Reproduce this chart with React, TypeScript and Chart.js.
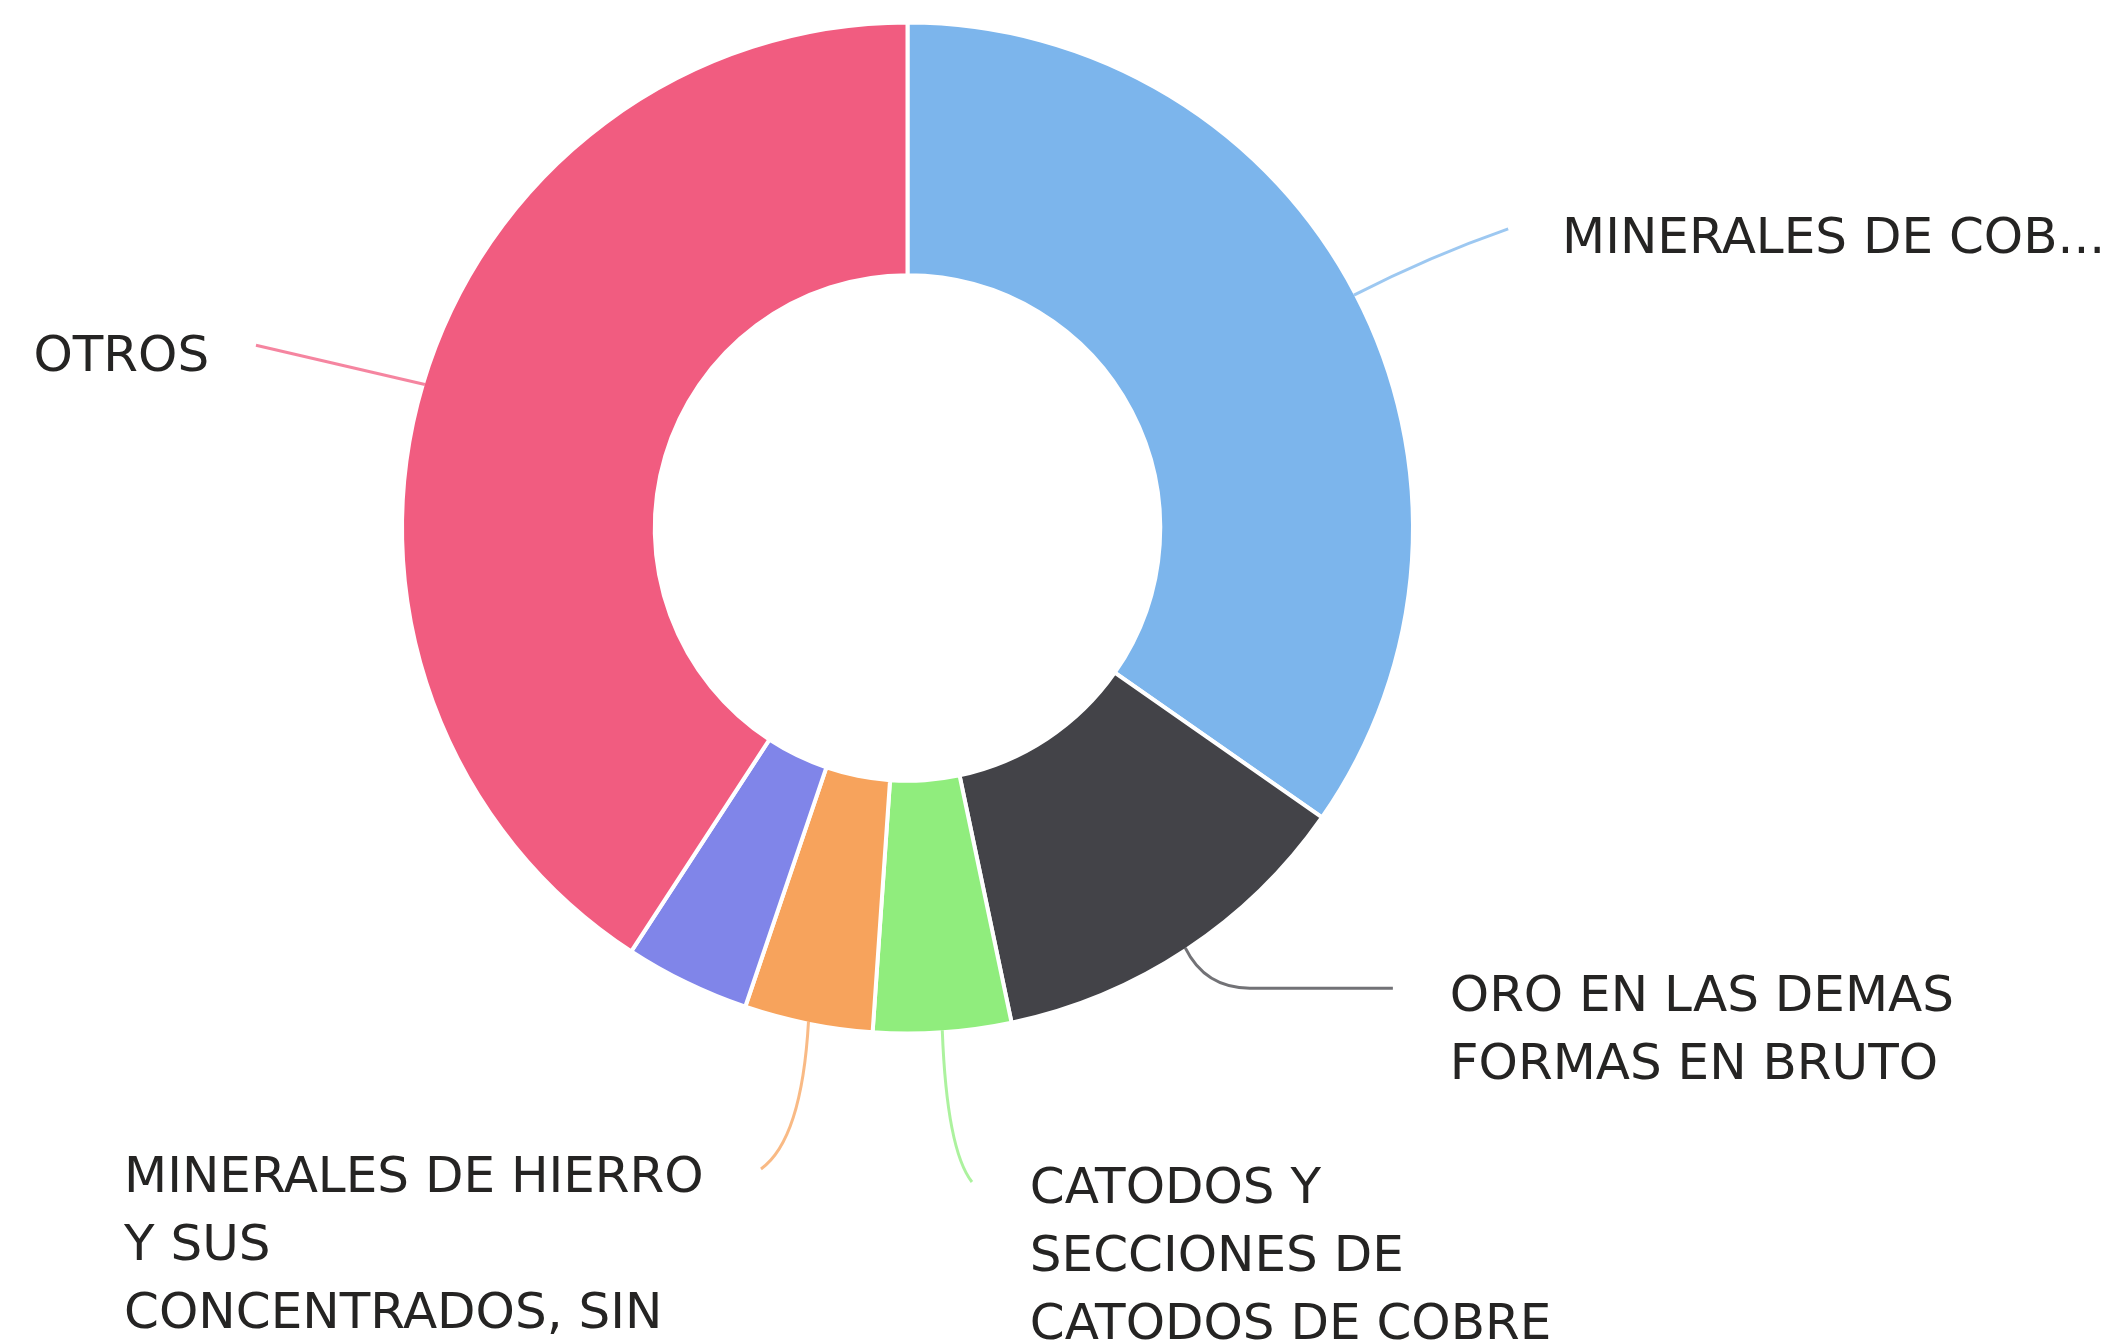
import React, { useEffect, useRef } from "react";
import { Chart, registerables } from "chart.js";

Chart.register(...registerables);

// ---- data ----
const categories = [
  "MINERALES DE COBRE Y SUS CONCENTRADOS",
  "ORO EN LAS DEMAS FORMAS EN BRUTO",
  "CATODOS Y SECCIONES DE CATODOS DE COBRE",
  "MINERALES DE HIERRO Y SUS CONCENTRADOS, SIN AGLOMERAR",
  "",
  "OTROS",
];
const shares = [34.7, 12.0, 4.4, 4.1, 4.0, 40.8];
const labelLines: string[][] = [
  ["MINERALES DE COB..."],
  ["ORO EN LAS DEMAS", "FORMAS EN BRUTO"],
  ["CATODOS Y", "SECCIONES DE", "CATODOS DE COBRE"],
  ["MINERALES DE HIERRO", "Y SUS", "CONCENTRADOS, SIN"],
  [],
  ["OTROS"],
];
const sliceColors = ["#7CB5EC", "#434348", "#90ED7D", "#F7A35C", "#8085E9", "#F15C80"];

// ---- label layout (in units of the outer radius, relative to the centre) ----
type Layout = {
  ctrl: [number, number];
  bend: [number, number];
  end: [number, number];
  text: [number, number];
  align: CanvasTextAlign;
} | null;
const labelLayout: Layout[] = [
  { ctrl: [1.038, -0.54], bend: [1.193, -0.594], end: [1.193, -0.594], text: [1.3, -0.572], align: "left" },
  { ctrl: [0.591, 0.914], bend: [0.68, 0.914], end: [0.964, 0.914], text: [1.077, 0.933], align: "left" },
  { ctrl: [0.078, 1.235], bend: [0.128, 1.299], end: [0.128, 1.299], text: [0.243, 1.315], align: "left" },
  { ctrl: [-0.21, 1.215], bend: [-0.291, 1.273], end: [-0.291, 1.273], text: [-1.556, 1.293], align: "left" },
  null,
  { ctrl: [-1.127, -0.324], bend: [-1.294, -0.363], end: [-1.294, -0.363], text: [-1.387, -0.338], align: "right" },
];

const BORDER = 4;
const FONT_SIZE = 50;
const LINE_HEIGHT = 68;

const outsideLabels = {
  id: "outsideLabels",
  afterDatasetsDraw(chart: any) {
    const ctx: CanvasRenderingContext2D = chart.ctx;
    const meta = chart.getDatasetMeta(0);
    meta.data.forEach((arc: any, i: number) => {
      const lay = labelLayout[i];
      const lines = labelLines[i];
      if (!lay || !lines || lines.length === 0) return;
      const p = arc.getProps(["x", "y", "startAngle", "endAngle", "outerRadius"], true);
      const R = p.outerRadius - BORDER / 2;
      const mid = (p.startAngle + p.endAngle) / 2;
      const x0 = p.x + Math.cos(mid) * R;
      const y0 = p.y + Math.sin(mid) * R;
      const pt = (v: [number, number]) => [p.x + v[0] * R, p.y + v[1] * R];
      const c = pt(lay.ctrl);
      const b = pt(lay.bend);
      const e = pt(lay.end);
      ctx.save();
      ctx.globalAlpha = 0.75;
      ctx.strokeStyle = sliceColors[i];
      ctx.lineWidth = 3;
      ctx.beginPath();
      ctx.moveTo(x0, y0);
      ctx.quadraticCurveTo(c[0], c[1], b[0], b[1]);
      ctx.lineTo(e[0], e[1]);
      ctx.stroke();
      ctx.globalAlpha = 1;
      const t = pt(lay.text);
      ctx.fillStyle = "#252423";
      ctx.font = `${FONT_SIZE}px "DejaVu Sans", sans-serif`;
      ctx.textAlign = lay.align;
      ctx.textBaseline = "middle";
      lines.forEach((ln, k) => {
        ctx.fillText(ln, t[0], t[1] + k * LINE_HEIGHT);
      });
      ctx.restore();
    });
  },
};

export default function App() {
  const ref = useRef<HTMLCanvasElement | null>(null);
  useEffect(() => {
    document.body.style.margin = "0";
    const chart = new Chart(ref.current as HTMLCanvasElement, {
      type: "doughnut",
      data: {
        labels: categories,
        datasets: [
          {
            data: shares,
            backgroundColor: sliceColors,
            borderColor: "#ffffff",
            borderWidth: BORDER,
          },
        ],
      },
      options: {
        responsive: false,
        animation: false,
        radius: 505.5,
        cutout: "50%",
        layout: { padding: { left: 404, right: 700, top: 24, bottom: 311 } },
        plugins: {
          legend: { display: false },
          tooltip: { enabled: false },
        },
      } as any,
      plugins: [outsideLabels],
    });
    return () => chart.destroy();
  }, []);
  return (
    <div style={{ width: 2111, height: 1343, overflow: "hidden", background: "#fff" }}>
      <canvas ref={ref} width={2111} height={1343} style={{ display: "block" }} />
    </div>
  );
}
